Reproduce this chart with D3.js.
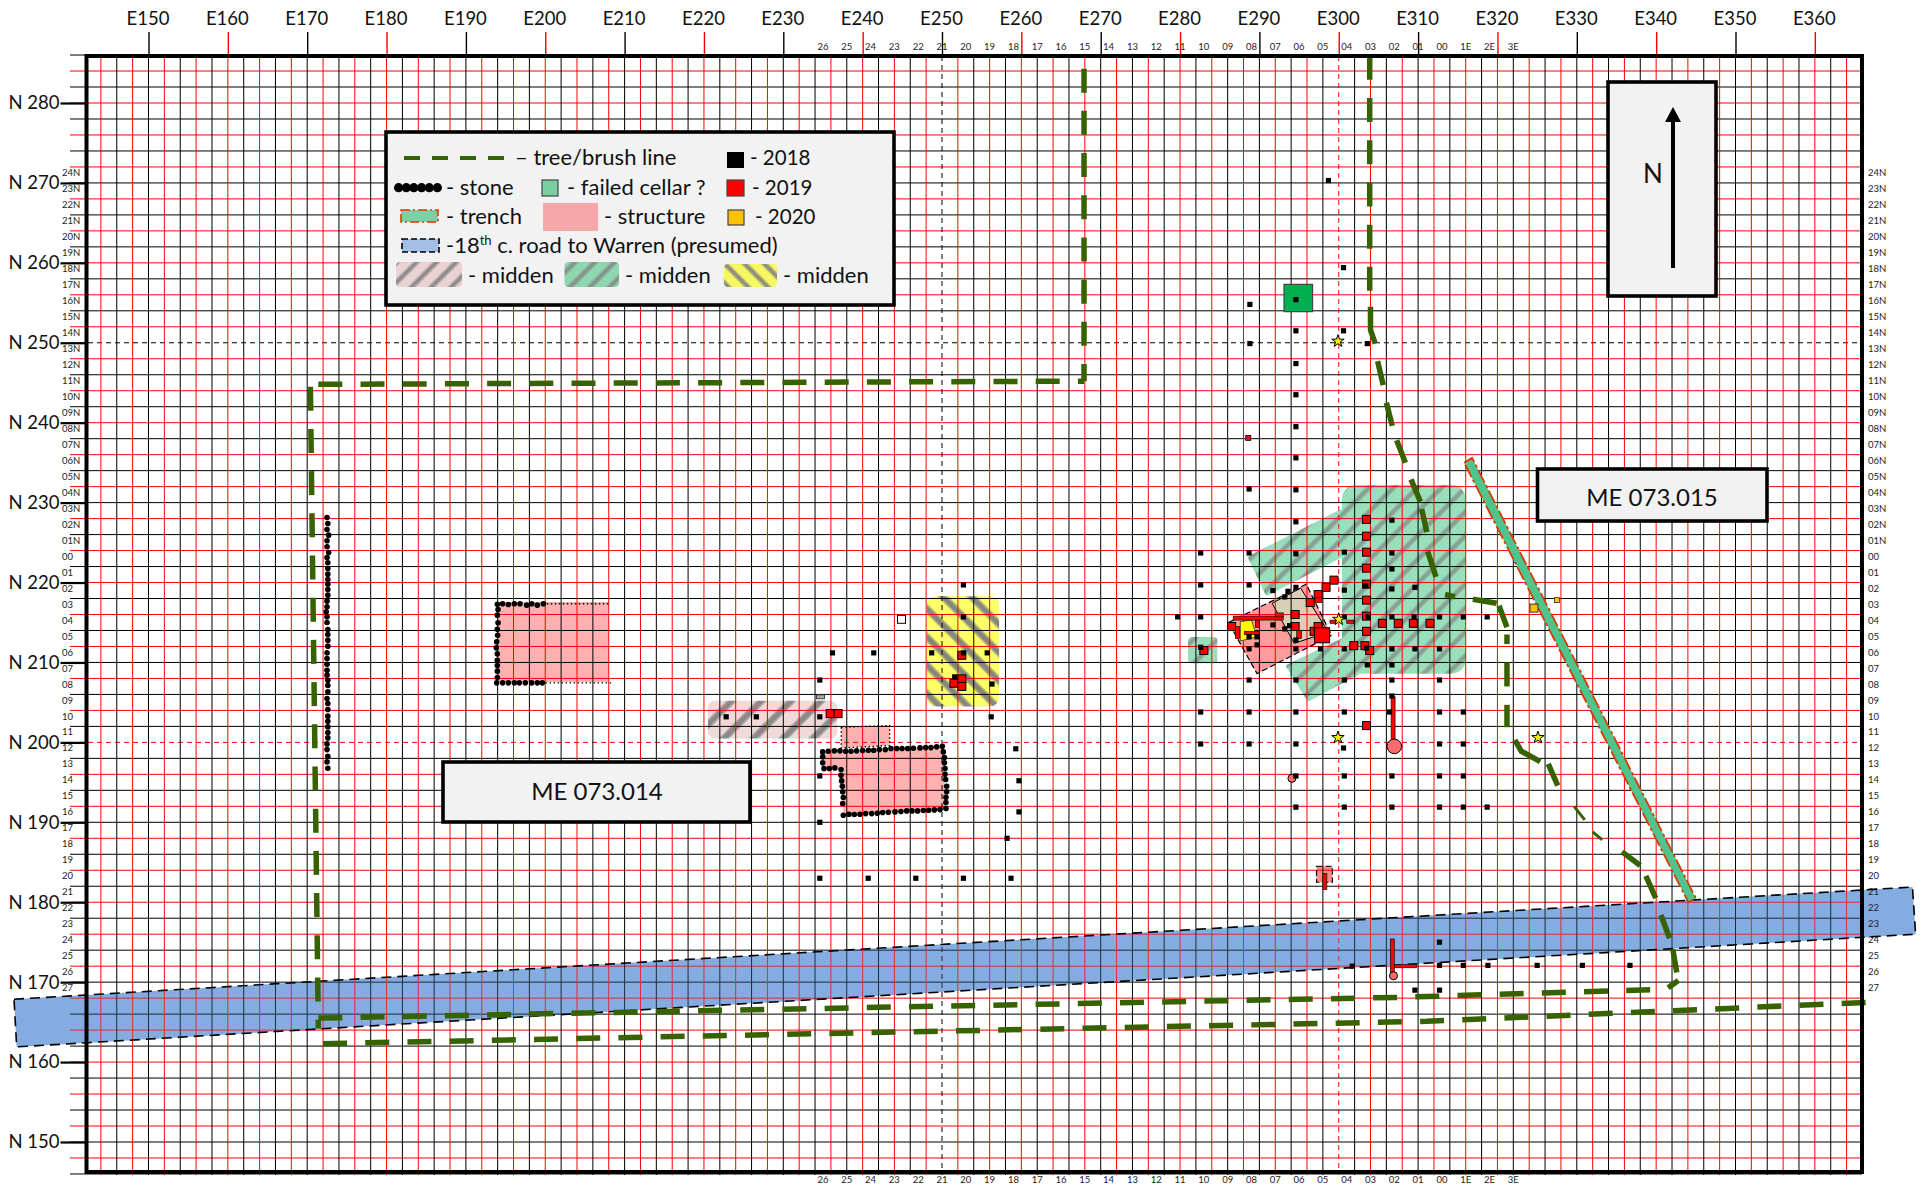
<!DOCTYPE html>
<html>
<head>
<meta charset="utf-8">
<script src="https://cdn.jsdelivr.net/npm/d3@7"></script>
<style>
html, body { margin: 0; background: #fff; }
svg { display: block; font-family: Lato, sans-serif; }
</style>
</head>
<body>
<script>
// grid labels
const eastTicks = [150, 160, 170, 180, 190, 200, 210, 220, 230, 240, 250, 260, 270, 280, 290, 300, 310, 320, 330, 340, 350, 360]
const northTicks = [280, 270, 260, 250, 240, 230, 220, 210, 200, 190, 180, 170, 160, 150]
const siteEast = ["26", "25", "24", "23", "22", "21", "20", "19", "18", "17", "16", "15", "14", "13", "12", "11", "10", "09", "08", "07", "06", "05", "04", "03", "02", "01", "00", "1E", "2E", "3E"]
const siteNorth = ["24N", "23N", "22N", "21N", "20N", "19N", "18N", "17N", "16N", "15N", "14N", "13N", "12N", "11N", "10N", "09N", "08N", "07N", "06N", "05N", "04N", "03N", "02N", "01N", "00", "01", "02", "03", "04", "05", "06", "07", "08", "09", "10", "11", "12", "13", "14", "15", "16", "17", "18", "19", "20", "21", "22", "23", "24", "25", "26", "27"]

// units, [east, north]
const units2018 = [
    [298.7, 270.3], [300.6, 259.4], [294.6, 255.4], [288.8, 254.8], [294.6, 251.5], [300.6, 251.5], [288.8, 249.9], [303.6, 249.9],
    [294.6, 247.4], [294.6, 243.5], [294.6, 239.5], [294.6, 235.6], [288.7, 231.7], [294.6, 231.6], [294.6, 227.6], [306.7, 227.8],
    [282.6, 223.7], [288.7, 223.7], [294.6, 223.6], [300.7, 223.8], [306.7, 223.7], [306.7, 221.7], [282.6, 219.7], [288.7, 219.7],
    [300.7, 219.05], [306.7, 219.2], [309.6, 219.4], [291.7, 219], [293.6, 218.9], [294.6, 219.4], [293.2, 218.2], [303.4, 219.6],
    [279.7, 215.7], [282.6, 215.7], [300.7, 215.7], [306.7, 215.7], [309.5, 215.7], [312.7, 215.7], [315.7, 215.7], [318.7, 215.7], [303.7, 215.7],
    [291.7, 214.7], [293.2, 214.2], [293.8, 214.6], [294.6, 212.8], [289.7, 213.2], [288.7, 213.2], [289.7, 212.2],
    [282.6, 211.9], [288.7, 211.7], [294.6, 211.7], [297.7, 211.7], [300.7, 211.7], [303.5, 211.8], [306.7, 211.7], [309.6, 211.7], [312.7, 211.7],
    [303.6, 209.7], [306.7, 209.7], [288.7, 207.8], [294.6, 207.8], [300.7, 207.8], [306.7, 207.8], [312.7, 207.8], [306.7, 205.8],
    [282.6, 203.8], [288.7, 203.8], [294.6, 203.8], [300.7, 203.8], [306.4, 203.8], [312.7, 203.8], [315.7, 203.8],
    [282.6, 199.8], [288.7, 199.8], [294.6, 199.8], [300.6, 199.3], [312.7, 199.8], [315.7, 199.8],
    [294.6, 195.8], [300.7, 195.8], [306.7, 195.8], [312.7, 195.8], [315.7, 195.8],
    [294.6, 191.9], [300.7, 191.9], [306.7, 191.9], [312.7, 191.9], [315.7, 191.9], [318.7, 191.9],
    [312.7, 175], [301.7, 172], [312.7, 172.1], [315.7, 172.1], [318.8, 172.1], [325, 172.1], [330.7, 172.1], [336.7, 172.1], [309.6, 169], [312.7, 169],
    [252.7, 219.7], [252.7, 215.7], [236.2, 211.2], [241.4, 211.2], [248.7, 211.2], [252.7, 211.2], [255.7, 211.2], [234.6, 207.8], [256.3, 207.3], [251.6, 208.2],
    [226.6, 203.2], [222.8, 203.2], [234.6, 203.2], [256.2, 203.2], [259.3, 199.2], [259.7, 195.2], [234.6, 195.8], [259.7, 191.3], [258.2, 188], [234.6, 190],
    [234.6, 183], [240.7, 183], [246.7, 183], [252.7, 183], [258.7, 183]
]
const units2019 = [
    [303.5, 227.9], [303.5, 225.8], [303.5, 223.8], [303.5, 221.8], [303.5, 219.8], [303.5, 217.8], [303.5, 215.8], [303.5, 213.9],
    [305.5, 214.9], [307.5, 214.9], [309.4, 214.9], [311.5, 214.9], [301.9, 212.1], [303.3, 212.1], [303.9, 211.5], [283, 211.5],
    [286.5, 214.5], [294.5, 216], [294.5, 214.5], [297.4, 218.5], [296.4, 217.5], [298.4, 219.4], [299.4, 220.3], [296.9, 213.9], [297.4, 214.5],
    [303.5, 202.1], [251.5, 207.4], [252.5, 207.95], [252.5, 207], [252.5, 210.9], [235.9, 203.6], [236.9, 203.6]
]
const units2019Small = [[288.6, 238.1]]
const bigUnit = [[297.9, 213.4]]
const units2020 = [[324.6, 216.8]]
const units2020Small = [[327.5, 217.8]]
const emptyUnit = [[244.9, 215.4]]
const greyUnit = [[234.7, 205.7]]
// trench arms: [east0, east1, north0, north1]
const redBars = [
    [286.7, 293, 215.8, 215.3], [288.1, 290, 213.9, 213.5], [292, 293, 216.2, 215.7], [301, 301.9, 215.3, 214.9],
    [298.9, 299.7, 215.3, 214.9], [297, 297.9, 218.1, 217.5], [294.7, 295.3, 214, 213], [287, 287.5, 214.5, 213],
    [289.5, 290, 215.3, 214.4], [306.6, 307.1, 205.7, 199.7], [298, 298.5, 183.6, 181.6], [306.5, 307, 175.4, 170.9], [307, 309.8, 172.2, 171.8]
]
const wells = [[307, 199.5, 7.3], [294.1, 195.5, 4], [306.9, 170.8, 4]]
const stars = [[299.9, 250.2], [300, 215.4], [299.9, 200.6], [325.1, 200.6]]

// stone lines
const stoneWest = [
    [172.5, 228.14], [172.6, 227.39], [172.5, 226.64], [172.7, 225.93], [172.5, 225.22], [172.5, 224.47], [172.7, 223.76], [172.5, 223.13], [172.6, 222.47],
    [172.6, 221.76], [172.6, 221.05], [172.6, 220.38], [172.6, 219.8], [172.6, 219.13], [172.6, 218.42], [172.5, 217.67], [172.5, 216.96], [172.4, 216.33],
    [172.5, 215.71], [172.5, 215], [172.6, 214.12], [172.6, 213.5], [172.6, 212.79], [172.6, 212.04], [172.5, 211.2], [172.5, 210.49], [172.5, 209.78],
    [172.5, 209.03], [172.5, 208.41], [172.6, 207.78], [172.6, 207.11], [172.6, 206.32], [172.5, 205.49], [172.6, 204.86], [172.6, 204.11], [172.6, 203.28],
    [172.6, 202.65], [172.6, 201.94], [172.6, 201.23], [172.6, 200.56], [172.5, 199.81], [172.5, 199.1], [172.6, 198.27], [172.5, 197.56], [172.6, 196.77]
]
const stoneSquare = [
    [193.96, 217.29], [194.63, 217.34], [195.35, 217.25], [196.1, 217.34], [196.82, 217.34], [197.66, 217.17], [198.29, 217.34], [199, 217.17], [199.76, 217.34],
    [194.05, 216.63], [193.96, 215.92], [194.05, 214.96], [193.96, 214.16], [194, 213.41], [193.88, 212.58], [193.83, 211.83], [193.96, 211.08], [193.96, 210.28],
    [193.96, 209.62], [193.96, 208.91], [193.96, 208.11], [193.88, 207.45], [194.63, 207.45], [195.35, 207.45], [196.1, 207.45], [196.73, 207.45], [197.49, 207.45],
    [198.29, 207.45], [199, 207.45], [199.63, 207.45]
]
const stoneEll = [
    [234.96, 198.81], [235.67, 198.9], [236.43, 198.94], [237.14, 198.94], [237.86, 198.9], [238.53, 198.9], [239.24, 198.94], [240, 198.98], [240.72, 199.02],
    [241.39, 199.02], [242.1, 199.1], [242.86, 199.1], [243.57, 199.23], [244.29, 199.23], [244.96, 199.23], [245.67, 199.23], [246.39, 199.27], [247.23, 199.31],
    [247.94, 199.35], [248.61, 199.35], [249.33, 199.44], [250.04, 199.52], [250.17, 198.81], [250.3, 198.1], [250.3, 197.44], [250.38, 196.73], [250.38, 196.02],
    [250.46, 195.35], [250.59, 194.51], [250.59, 193.81], [250.5, 193.14], [250.5, 192.47], [250.5, 191.72], [249.75, 191.59], [249.03, 191.55], [248.32, 191.51],
    [247.65, 191.47], [246.93, 191.43], [246.22, 191.43], [245.55, 191.43], [244.83, 191.34], [244.08, 191.3], [243.24, 191.26], [242.52, 191.22], [241.85, 191.14],
    [241.14, 191.09], [240.38, 191.09], [239.66, 191.01], [238.95, 190.97], [238.28, 191.01], [237.56, 190.89], [237.48, 192.35], [237.56, 193.1], [237.48, 193.81],
    [237.44, 194.51], [237.35, 195.18], [237.27, 195.89], [237.27, 196.6], [236.5, 196.81], [235.8, 196.73], [235.13, 196.73], [234.96, 197.44], [234.96, 198.19]
]

// areas
const roadArea = [[133.05, 167.86], [372.3, 181.9], [372.7, 176], [133.39, 161.9]]
const trenchArea = [[315.8, 235], [316.8, 235.6], [345, 180.5], [344.05, 180]]
const structSquare = [[193.96, 217.55], [207.95, 217.55], [207.95, 207.57], [193.96, 207.57]]
const structEll = [[234.96, 198.81], [250.04, 199.52], [250.5, 191.6], [237.6, 190.9], [237.3, 196.9], [235, 196.7]]
const structAnnex = [[237.3, 201.9], [243.4, 202.1], [243.4, 199.6], [237.3, 199.3]]
const structHouse = [[286.1, 215], [295.9, 219.8], [299.1, 213.4], [289.7, 208.6]]
const structSmall = [[297.2, 184.5], [299.2, 184.5], [299.2, 182.5], [297.2, 182.5]]
const cellarFloor = [[291.6, 217.4], [295.2, 219.3], [298.7, 213.8], [294.4, 212.4]]
const yellowFloor = [[287.6, 215.1], [289, 215.3], [289.7, 213.2], [287.6, 212.7]]
const failedCellar = [[293.1, 257.3], [296.7, 257.3], [296.7, 253.9], [293.1, 253.9]]
const middenGrey = [220.5, 236.8, 205.2, 200.5]
const middenYellow = [248.1, 257.2, 218.3, 204.5]
const middenGreen = [300.4, 316, 232.2, 208.6]
const middenGreenSmall = [281, 284.7, 213.2, 209.9]
const middenArmUpper = [[288.9, 223.1], [300.2, 228.8], [300.4, 223.5], [291, 218.7]]
const middenArmLower = [[293.7, 209.5], [300.4, 212.7], [302.8, 209], [296.2, 205.5]]

// tree lines, long runs drawn dashed
const treeEast = [[267.9, 284.3], [267.9, 245.2]]
const treeNorth = [[171.4, 244.8], [267.9, 245.2]]
const treeWest = [[170.4, 244.5], [171.4, 164.2]]
const treeSouth = [[171.4, 165.5], [307.7, 168.1], [340.6, 169.1]]
const treeTop = [[303.9, 285.9], [303.9, 254.5]]
const treeLower = [[172, 162.3], [311.1, 165.1], [367.3, 167.5]]
// the bend to the east, each dash read on its own
const treeBend = [
    [[304, 254.5], [304, 251.6], [304.6, 249.9]], [[304.9, 247.7], [305.6, 244.7]], [[306, 242.5], [306.75, 239.6]], [[307.3, 237.8], [308.4, 235]],
    [[309.1, 232.9], [310.3, 230.1]], [[310.45, 229.2], [311.1, 226.3]], [[311.2, 223.9], [312.25, 220.7]], [[313.4, 218.5], [314.65, 218.2]],
    [[316.9, 217.9], [319.9, 217.4]], [[320.2, 217.1], [321.2, 214.4]], [[321.2, 213.5], [321.2, 212.3]], [[321.2, 210], [321.2, 207]], [[321.2, 204.7], [321.2, 201.9]],
    [[322.2, 200.3], [323, 198.9], [325.4, 197.6]], [[326.4, 197.3], [327.6, 194.6]], [[329.65, 192], [331, 190.3]], [[332, 188.8], [333.2, 187.8]],
    [[335.7, 186.3], [338, 184.6]], [[338.7, 183.3], [339.95, 180.5]], [[340.6, 178.4], [341.7, 175.5]], [[342.1, 174.1], [342.6, 171.2]], [[342.8, 170.2], [341.5, 169.3]]
]

const x = d3.scaleLinear().domain([150, 350]).range([148.5, 1735.5])
const y = d3.scaleLinear().domain([280, 150]).range([103, 1142])
const sx = d3.scalePoint().domain(siteEast).range([x(235), x(322)])
const sy = d3.scalePoint().domain(siteNorth).range([y(271.3), y(169.3)])
const left = 86.5, right = 1862, top_ = 56, bottom = 1172

const eastColor = (e) => ((e - 150) / 2) % 2 === 0 ? "#000" : "#f00"
const northColor = (n) => ((280 - n) / 2) % 2 === 0 ? "#f00" : "#000"
const pts = (a) => a.map(([e, n]) => [x(e), y(n)].join(",")).join(" ")

const svg = d3.select("body").append("svg").attr("width", 1923).attr("height", 1187)

// hatches
const defs = svg.append("defs")
function hatch(id, bg, angle, period, width, strength) {
    const p = defs.append("pattern").attr("id", id).attr("patternUnits", "userSpaceOnUse")
        .attr("width", period).attr("height", period).attr("patternTransform", `rotate(${angle})`)
    p.append("rect").attr("width", period).attr("height", period).attr("fill", bg)
    p.append("rect").attr("x", 1).attr("width", width).attr("height", period).attr("fill", "#808080").attr("opacity", strength * 0.5)
    p.append("rect").attr("x", 2.5).attr("width", width - 3).attr("height", period).attr("fill", "#808080").attr("opacity", strength)
}
hatch("hGrey", "#efd9d9", 45, 21, 8, 0.85)
hatch("hYellow", "#ffff66", -45, 20, 8, 0.9)
hatch("hGreen", "#9adfbc", 45, 17, 6, 0.6)
hatch("lGrey", "#ebd2d2", 45, 14, 6, 0.8)
hatch("lGreen", "#8ed6b0", 45, 14, 6, 0.7)
hatch("lYellow", "#f7f763", -45, 14, 6, 0.85)

// under the grid
svg.append("polygon").attr("points", pts(roadArea)).attr("fill", "#85ade0")
const rectArea = (sel, [e0, e1, n0, n1], fill, r) => sel.append("rect")
    .attr("x", x(e0)).attr("y", y(n0)).attr("width", x(e1) - x(e0)).attr("height", y(n1) - y(n0))
    .attr("rx", r).attr("fill", fill)
rectArea(svg, middenGrey, "url(#hGrey)", 7)
rectArea(svg, middenYellow, "url(#hYellow)", 9)
svg.selectAll(".arm").data([middenArmUpper, middenArmLower]).join("polygon")
    .attr("points", pts).attr("fill", "url(#hGreen)")
    .attr("stroke", "url(#hGreen)").attr("stroke-width", 5).attr("stroke-linejoin", "round")
rectArea(svg, middenGreen, "url(#hGreen)", 14)
rectArea(svg, middenGreenSmall, "url(#hGreen)", 4)
svg.selectAll(".struct").data([structSquare, structEll, structAnnex]).join("polygon")
    .attr("points", pts).attr("fill", "#ffb0b0")
svg.append("polygon").attr("points", pts(structHouse)).attr("fill", "#ff9c9c")
svg.append("polygon").attr("points", pts(structSmall)).attr("fill", "#ff8888")
svg.append("polygon").attr("points", pts(cellarFloor)).attr("fill", "#d8cfb4")

// grid
const gridEast = d3.range(144, 366, 2)
const gridNorth = d3.range(146, 288, 2)
const dashedEast = [250, 300]
const dashedNorth = [250, 200]
svg.append("g").selectAll("line").data(gridNorth).join("line")
    .attr("x1", 70).attr("x2", right).attr("y1", y).attr("y2", y)
    .attr("stroke", northColor).attr("stroke-width", 1)
    .attr("stroke-dasharray", (d) => dashedNorth.includes(d) ? "5 4" : null)
svg.append("g").selectAll("line").data(gridEast).join("line")
    .attr("y1", top_).attr("y2", bottom + 3).attr("x1", x).attr("x2", x)
    .attr("stroke", eastColor).attr("stroke-width", 1)
    .attr("stroke-dasharray", (d) => dashedEast.includes(d) ? "5 4" : null)
svg.append("polygon").attr("points", pts(roadArea)).attr("fill", "#85ade0").attr("opacity", 0.25)

// axes
const axTop = svg.append("g").attr("transform", `translate(0,${top_})`)
    .call(d3.axisTop(x).tickValues(eastTicks).tickSize(24).tickPadding(7).tickFormat((d) => "E" + d))
axTop.select(".domain").remove()
axTop.selectAll("line").attr("stroke", eastColor).attr("stroke-width", 1.4)
axTop.selectAll("text").attr("font-family", "Lato").attr("font-size", 18.5).attr("fill", "#111").attr("dx", -1)
const axLeft = svg.append("g").attr("transform", `translate(${left},0)`)
    .call(d3.axisLeft(y).tickValues(northTicks).tickSize(26).tickPadding(1).tickFormat((d) => "N " + d))
axLeft.select(".domain").remove()
axLeft.selectAll("line").attr("stroke", "#000").attr("stroke-width", 2.2)
axLeft.selectAll("text").attr("font-family", "Lato").attr("font-size", 18.5).attr("fill", "#111")

// site labels
const small = (g) => g.attr("font-size", 9.5).attr("fill", "#222")
svg.append("g").call(small).attr("text-anchor", "middle").selectAll("text").data(siteEast).join("text")
    .attr("x", sx).attr("y", 50).text((d) => d)
svg.append("g").call(small).attr("text-anchor", "middle").selectAll("text").data(siteEast).join("text")
    .attr("x", sx).attr("y", 1183).text((d) => d)
svg.append("g").call(small).selectAll("text").data(siteNorth).join("text")
    .attr("x", 62).attr("y", (d) => sy(d) + 3.5).text((d) => d)
svg.append("g").call(small).selectAll("text").data(siteNorth).join("text")
    .attr("x", 1868).attr("y", (d) => sy(d) + 3.5).text((d) => d)

// road and structure outlines
svg.append("polygon").attr("points", pts(roadArea)).attr("fill", "none")
    .attr("stroke", "#000").attr("stroke-width", 1.6).attr("stroke-dasharray", "10 6")
svg.selectAll(".out").data([structHouse, structSmall]).join("polygon")
    .attr("points", pts).attr("fill", "none").attr("stroke", "#000").attr("stroke-width", 1.2).attr("stroke-dasharray", "6 3")
svg.append("polygon").attr("points", pts(cellarFloor)).attr("fill", "none").attr("stroke", "#000").attr("stroke-width", 1)
svg.selectAll(".dot").data([structAnnex]).join("polygon")
    .attr("points", pts).attr("fill", "none").attr("stroke", "#000").attr("stroke-width", 1.4).attr("stroke-dasharray", "1.5 2.5")
svg.selectAll(".sq").data([[[207.95, 217.34], [199.8, 217.34]], [[208.3, 207.45], [199.7, 207.45]]]).join("polyline")
    .attr("points", pts).attr("fill", "none").attr("stroke", "#000").attr("stroke-width", 1.4).attr("stroke-dasharray", "1.5 2.5")

// trench, yellow floor, failed cellar
svg.append("polygon").attr("points", pts(trenchArea)).attr("fill", "#4fc48d")
    .attr("stroke", "#d83b01").attr("stroke-width", 1.8).attr("stroke-dasharray", "14 3 3 3")
svg.append("polygon").attr("points", pts(yellowFloor)).attr("fill", "#ffff00").attr("stroke", "#000").attr("stroke-width", 0.6)
svg.append("polygon").attr("points", pts(failedCellar)).attr("fill", "#00b050").attr("stroke", "#3b4a42").attr("stroke-width", 1.2)

// tree lines
const line = d3.line().x((d) => x(d[0])).y((d) => y(d[1]))
svg.selectAll(".tree").data([treeEast, treeNorth, treeWest, treeSouth, treeTop, treeLower]).join("path")
    .attr("d", line).attr("fill", "none").attr("stroke", "#376200").attr("stroke-width", 5.5).attr("stroke-dasharray", "24 18.2")
svg.selectAll(".bend").data(treeBend).join("path")
    .attr("d", line).attr("fill", "none").attr("stroke", "#376200").attr("stroke-width", (d, i) => i === 15 || i === 16 ? 3 : 5.5)

// stones
svg.append("g").selectAll("circle").data([...stoneWest, ...stoneSquare, ...stoneEll]).join("circle")
    .attr("cx", (d) => x(d[0])).attr("cy", (d) => y(d[1])).attr("r", 2.8).attr("fill", "#000")

// units
const squares = (data, size, fill, stroke, sw) => svg.append("g").selectAll("rect").data(data).join("rect")
    .attr("x", (d) => x(d[0]) - size / 2).attr("y", (d) => y(d[1]) - size / 2).attr("width", size).attr("height", size)
    .attr("fill", fill).attr("stroke", stroke).attr("stroke-width", sw)
squares(units2019, 8, "#f00", "#000", 1)
squares(units2019Small, 5, "#f00", "#000", 0.8)
svg.append("g").selectAll("rect").data(redBars).join("rect")
    .attr("x", (d) => x(d[0])).attr("y", (d) => y(d[2])).attr("width", (d) => x(d[1]) - x(d[0])).attr("height", (d) => y(d[3]) - y(d[2]))
    .attr("fill", "#f00").attr("stroke", "#111").attr("stroke-width", 0.7)
squares(bigUnit, 15, "#f00", "#000", 1)
svg.append("g").selectAll("circle").data(wells).join("circle")
    .attr("cx", (d) => x(d[0])).attr("cy", (d) => y(d[1])).attr("r", (d) => d[2])
    .attr("fill", "#ff6b6b").attr("stroke", "#000").attr("stroke-width", 1)
squares(units2018, 5.2, "#000", "none", 0)
squares(units2020, 8, "#ffc000", "#333", 1)
squares(units2020Small, 5, "#ffc000", "#333", 0.8)
squares(emptyUnit, 8, "#fff", "#000", 1)
svg.append("g").selectAll("rect").data(greyUnit).join("rect")
    .attr("x", (d) => x(d[0]) - 4).attr("y", (d) => y(d[1]) - 2).attr("width", 8).attr("height", 4)
    .attr("fill", "#aaa").attr("stroke", "#222").attr("stroke-width", 0.8)
svg.append("g").selectAll("path").data(stars).join("path")
    .attr("d", d3.symbol().type(d3.symbolStar).size(48))
    .attr("transform", (d) => `translate(${x(d[0])},${y(d[1])})`)
    .attr("fill", "#ffee00").attr("stroke", "#000").attr("stroke-width", 1)

// frame
svg.append("rect").attr("x", left).attr("y", top_).attr("width", right - left).attr("height", bottom - top_)
    .attr("fill", "none").attr("stroke", "#000").attr("stroke-width", 4)

// label boxes
function box(bx, by, w, h) {
    svg.append("rect").attr("x", bx).attr("y", by).attr("width", w).attr("height", h)
        .attr("fill", "#f2f2f2").attr("stroke", "#000").attr("stroke-width", 3.6)
}
const label = (tx, ty, t, size, anchor) => svg.append("text").attr("x", tx).attr("y", ty).text(t)
    .attr("font-size", size || 22).attr("text-anchor", anchor || "start").attr("fill", "#111")
box(443, 762, 307, 60)
label(597, 800, "ME 073.014", 24, "middle")
box(1537.5, 469, 229.5, 52)
label(1652, 506, "ME 073.015", 24, "middle")

// north box
box(1608, 82, 108, 214)
label(1653, 183, "N", 26, "middle")
svg.append("line").attr("x1", 1673).attr("x2", 1673).attr("y1", 268).attr("y2", 120).attr("stroke", "#000").attr("stroke-width", 4)
svg.append("polygon").attr("points", "1673,107 1665,122 1681,122").attr("fill", "#000")

// legend
box(386, 132, 508, 173)
const lg = svg.append("g")
lg.append("line").attr("x1", 404).attr("x2", 505).attr("y1", 158).attr("y2", 158)
    .attr("stroke", "#376200").attr("stroke-width", 4).attr("stroke-dasharray", "16 12")
label(515, 165, "– tree/brush line")
const swatch = (sx0, sy0, w, h, fill, stroke) => lg.append("rect").attr("x", sx0).attr("y", sy0).attr("width", w).attr("height", h)
    .attr("fill", fill).attr("stroke", stroke || "none").attr("stroke-width", 1.2)
swatch(727, 152, 17, 16, "#000")
label(750, 165, "- 2018", 20.5)
lg.selectAll("circle").data([398.6, 406.3, 413.8, 421.6, 429.3, 437.4]).join("circle")
    .attr("cx", (d) => d).attr("cy", 187.7).attr("r", 4.6).attr("fill", "#000")
label(446, 195, "- stone")
swatch(542, 180, 16, 16, "#78cfa0", "#444")
label(567, 195, "- failed cellar ?")
swatch(727, 180, 17, 16, "#f00", "#444")
label(752, 195, "- 2019", 20.5)
swatch(401, 210, 37, 12, "#7dd0a4", "#d83b01").attr("stroke-width", 1.6).attr("stroke-dasharray", "9 3 2 3")
label(446, 224, "- trench")
swatch(543, 203, 55, 28, "#f6a8a8")
label(604, 224, "- structure")
swatch(728, 210, 16, 15, "#ffc000", "#444")
label(755, 224, "- 2020", 20.5)
swatch(402, 239, 37, 13, "#a3bfe6", "#000").attr("stroke-width", 1.6).attr("stroke-dasharray", "6 3")
const roadText = label(446, 253, "-18")
roadText.append("tspan").attr("dy", -8).attr("font-size", 13).text("th")
roadText.append("tspan").attr("dy", 8).text(" c. road to Warren (presumed)")
swatch(396, 262, 66, 25, "url(#lGrey)").attr("rx", 4)
label(468, 283, "- midden")
swatch(564.5, 262, 54.5, 25, "url(#lGreen)").attr("rx", 4)
label(625, 283, "- midden")
swatch(724, 264, 53, 23, "url(#lYellow)").attr("rx", 4)
label(783, 283, "- midden")
</script>
</body>
</html>
